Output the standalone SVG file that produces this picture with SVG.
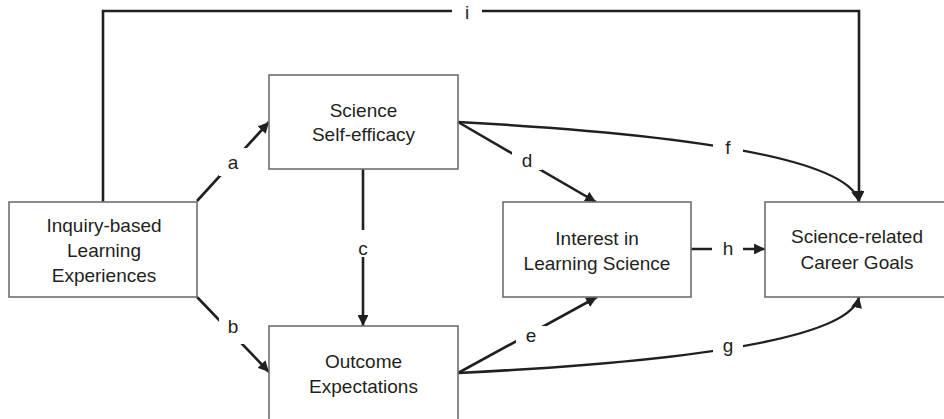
<svg xmlns="http://www.w3.org/2000/svg" width="944" height="419" viewBox="0 0 944 419">
<style>
.box{fill:#fff;stroke:#6f6f6f;stroke-width:1.6}
.t{font-family:"Liberation Sans",Arial,sans-serif;font-size:19px;fill:#231f20;text-anchor:middle}
.c{fill:none;stroke:#231f20;stroke-width:2.6}
.lb{fill:#fff;stroke:none}
</style>
<defs>
<marker id="ah" viewBox="0 0 10 10" refX="10" refY="5" markerWidth="4.2" markerHeight="4.2" orient="auto" markerUnits="strokeWidth">
<path d="M0,0 L10,5 L0,10 Z" fill="#231f20"/>
</marker>
</defs>
<rect width="944" height="419" fill="#fff"/>
<g id="connectors">
<path id="i" class="c" d="M103,202 V11 H859 V202" marker-end="url(#ah)"/>
<path id="a" class="c" d="M197,201 L269,122" marker-end="url(#ah)"/>
<path id="b" class="c" d="M197,297 L269,372" marker-end="url(#ah)"/>
<path id="cc" class="c" d="M363,169 V326" marker-end="url(#ah)"/>
<path id="d" class="c" d="M458,122 L596,202" marker-end="url(#ah)"/>
<path id="e" class="c" d="M458,373 L597,297" marker-end="url(#ah)"/>
<path id="f" class="c" d="M458,122 C700,135 850,160 859,202" marker-end="url(#ah)"/>
<path id="g" class="c" d="M458,373 C700,361 850,337 859,297" marker-end="url(#ah)"/>
<path id="h" class="c" d="M691,249 H765" marker-end="url(#ah)"/>
<rect class="lb" x="452" y="4" width="30" height="16"/>
<rect class="lb" x="219" y="148" width="29" height="28"/>
<rect class="lb" x="219" y="316" width="29" height="28"/>
<rect class="lb" x="350" y="230" width="26" height="27"/>
<rect class="lb" x="512" y="151" width="30" height="19"/>
<rect class="lb" x="516" y="326" width="30" height="22"/>
<rect class="lb" x="713" y="135" width="30" height="22"/>
<rect class="lb" x="713" y="338" width="30" height="22"/>
<rect class="lb" x="712" y="240" width="31" height="18"/>
<text class="t" x="467" y="19">i</text>
<text class="t" x="233" y="169">a</text>
<text class="t" x="233" y="333">b</text>
<text class="t" x="363" y="255">c</text>
<text class="t" x="527" y="167">d</text>
<text class="t" x="531" y="342">e</text>
<text class="t" x="728" y="154">f</text>
<text class="t" x="728" y="352">g</text>
<text class="t" x="728" y="255">h</text>
</g>
<g id="inquiry">
<rect class="box" x="9" y="202" width="188" height="95"/>
<text class="t" x="104" y="232">Inquiry-based</text>
<text class="t" x="104" y="257">Learning</text>
<text class="t" x="104" y="282">Experiences</text>
</g>
<g id="selfefficacy">
<rect class="box" x="269" y="75" width="189" height="94"/>
<text class="t" x="363.5" y="117">Science</text>
<text class="t" x="363.5" y="141">Self-efficacy</text>
</g>
<g id="outcome">
<rect class="box" x="269" y="326" width="189" height="96"/>
<text class="t" x="363.5" y="368">Outcome</text>
<text class="t" x="363.5" y="393">Expectations</text>
</g>
<g id="interest">
<rect class="box" x="503" y="202" width="188" height="95"/>
<text class="t" x="597" y="245">Interest in</text>
<text class="t" x="597" y="270">Learning Science</text>
</g>
<g id="career">
<rect class="box" x="765" y="202" width="190" height="95"/>
<text class="t" x="857" y="243">Science-related</text>
<text class="t" x="857" y="269">Career Goals</text>
</g>
</svg>
